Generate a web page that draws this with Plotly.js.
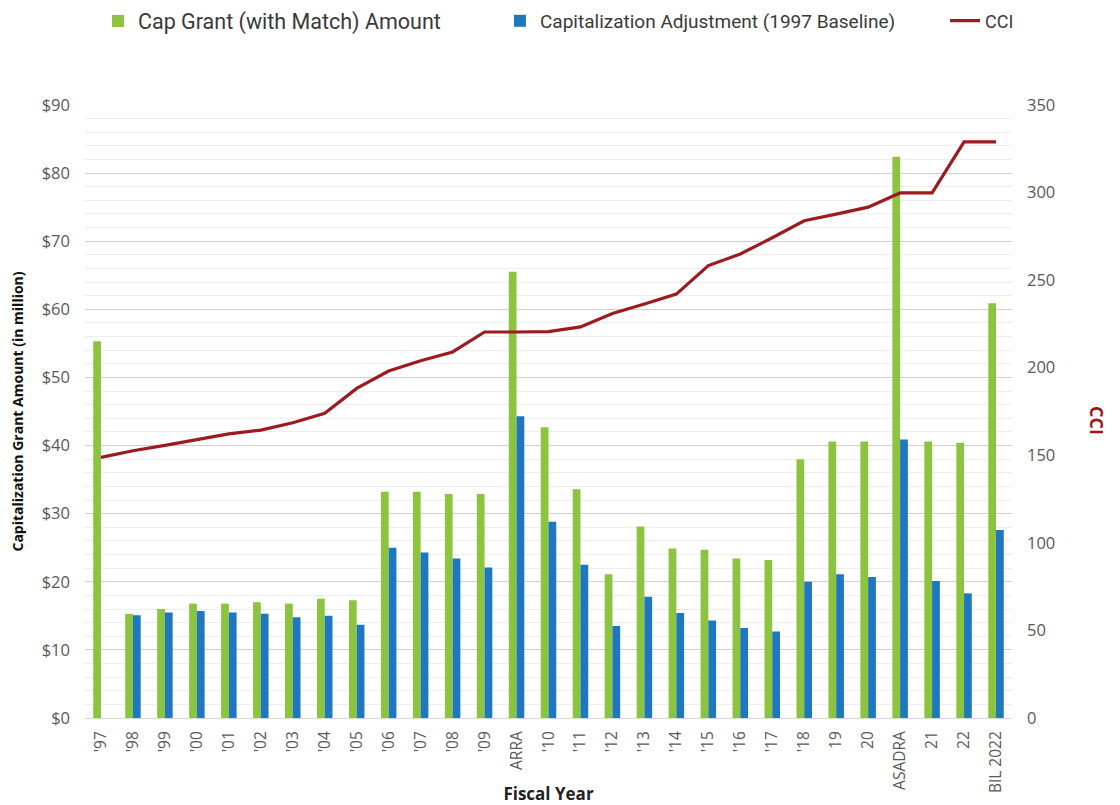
<!DOCTYPE html>
<html>
<head>
<meta charset="utf-8">
<script src="https://cdn.plot.ly/plotly-3.0.1.min.js"></script>
<style>
  html, body { margin: 0; padding: 0; background: #ffffff; }
  #chart { width: 1120px; height: 805px; }
</style>
</head>
<body>
<div id="chart"></div>
<script>
const categories = ["'97","'98","'99","'00","'01","'02","'03","'04","'05","'06","'07","'08","'09","ARRA",
  "'10","'11","'12","'13","'14","'15","'16","'17","'18","19","20","ASADRA","21","22","BIL 2022"];

const capGrant = [55.3, 15.3, 16.0, 16.8, 16.8, 17.0, 16.8, 17.5, 17.3, 33.2, 33.2, 32.9, 32.9, 65.5,
  42.7, 33.6, 21.1, 28.1, 24.9, 24.7, 23.4, 23.2, 38.0, 40.6, 40.6, 82.4, 40.6, 40.4, 60.9];

const capAdjust = [null, 15.1, 15.5, 15.7, 15.5, 15.3, 14.8, 15.0, 13.7, 25.0, 24.3, 23.4, 22.1, 44.3,
  28.8, 22.5, 13.5, 17.8, 15.4, 14.3, 13.2, 12.7, 20.0, 21.1, 20.7, 40.9, 20.1, 18.3, 27.6];

const cci = [148.8, 152.6, 155.7, 159.1, 162.2, 164.4, 168.6, 174.0, 188.2, 198.1, 204.0, 209.0, 220.4, 220.4,
  220.6, 223.3, 231.0, 236.4, 242.0, 258.3, 264.9, 274.2, 283.9, 287.7, 291.7, 299.8, 299.8, 329.0, 329.0];

const leftTicks = [0, 10, 20, 30, 40, 50, 60, 70, 80, 90];
const rightTicks = [0, 50, 100, 150, 200, 250, 300, 350];

const tickFont = { family: "Open Sans, DejaVu Sans, sans-serif", size: 16.5, color: "#595959" };

const traces = [
  {
    type: "bar", name: "Cap Grant (with Match) Amount",
    x: categories, y: capGrant,
    marker: { color: "#8cc43f" },
    legend: "legend",
    hoverinfo: "x+y"
  },
  {
    type: "bar", name: "Capitalization Adjustment (1997 Baseline)",
    x: categories, y: capAdjust,
    marker: { color: "#1f77c0" },
    legend: "legend2",
    hoverinfo: "x+y"
  },
  {
    type: "scatter", mode: "lines", name: "CCI",
    x: categories, y: cci, yaxis: "y2",
    line: { color: "#9b1b1e", width: 3.2 },
    legend: "legend3",
    hoverinfo: "x+y"
  }
];

function legendAt(xc, size) {
  return {
    orientation: "h",
    xref: "container", yref: "container",
    x: xc, xanchor: "left",
    y: 0.974, yanchor: "middle",
    font: { family: "Roboto, Open Sans, sans-serif", size: size, color: "#3a3a3a" },
    bgcolor: "rgba(0,0,0,0)",
    borderwidth: 0
  };
}

const layout = {
  width: 1120, height: 805,
  margin: { l: 85, r: 108, t: 105, b: 87, autoexpand: false },
  paper_bgcolor: "#ffffff",
  plot_bgcolor: "#ffffff",
  barmode: "group",
  bargap: 0.515,
  bargroupgap: 0,
  showlegend: true,
  legend: legendAt(0.0875, 21.5),
  legend2: legendAt(0.4464, 19),
  legend3: legendAt(0.8438, 18),
  xaxis: {
    type: "category",
    tickvals: categories,
    ticktext: categories,
    tickangle: -90,
    tickfont: { family: "Open Sans, DejaVu Sans, sans-serif", size: 15.5, color: "#595959" },
    showgrid: false,
    showline: true,
    linecolor: "#d9d9d9",
    linewidth: 1,
    ticks: "",
    ticklabelstandoff: 6,
    automargin: false,
    title: {
      text: "<b>Fiscal Year</b>",
      font: { family: "Open Sans, DejaVu Sans, sans-serif", size: 17, color: "#222222" },
      standoff: 8
    }
  },
  yaxis: {
    range: [0, 90],
    tickvals: leftTicks,
    ticktext: leftTicks.map(v => "$" + v),
    tickfont: tickFont,
    showgrid: true,
    gridcolor: "#d0d0d0",
    gridwidth: 1,
    minor: { dtick: 2, showgrid: true, gridcolor: "#eeeeee", gridwidth: 1 },
    zeroline: false,
    showline: false,
    ticks: "",
    ticklabelstandoff: 14,
    automargin: false,
    title: {
      text: "<b>Capitalization Grant Amount (in million)</b>",
      font: { family: "Open Sans, DejaVu Sans, sans-serif", size: 14, color: "#111111" },
      standoff: 14
    }
  },
  yaxis2: {
    overlaying: "y",
    side: "right",
    range: [0, 350],
    tickvals: rightTicks,
    ticktext: rightTicks.map(String),
    tickfont: tickFont,
    showgrid: false,
    zeroline: false,
    showline: false,
    ticks: "",
    ticklabelstandoff: 14,
    automargin: false
  },
  annotations: [
    {
      text: "<b>CCI</b>",
      xref: "paper", yref: "paper",
      x: 1.0917, y: 0.486,
      xanchor: "center", yanchor: "middle",
      textangle: 90,
      showarrow: false,
      font: { family: "Open Sans, DejaVu Sans, sans-serif", size: 18, color: "#a0141c" }
    }
  ]
};

Plotly.newPlot("chart", traces, layout, { displayModeBar: false, staticPlot: true });
</script>
</body>
</html>
